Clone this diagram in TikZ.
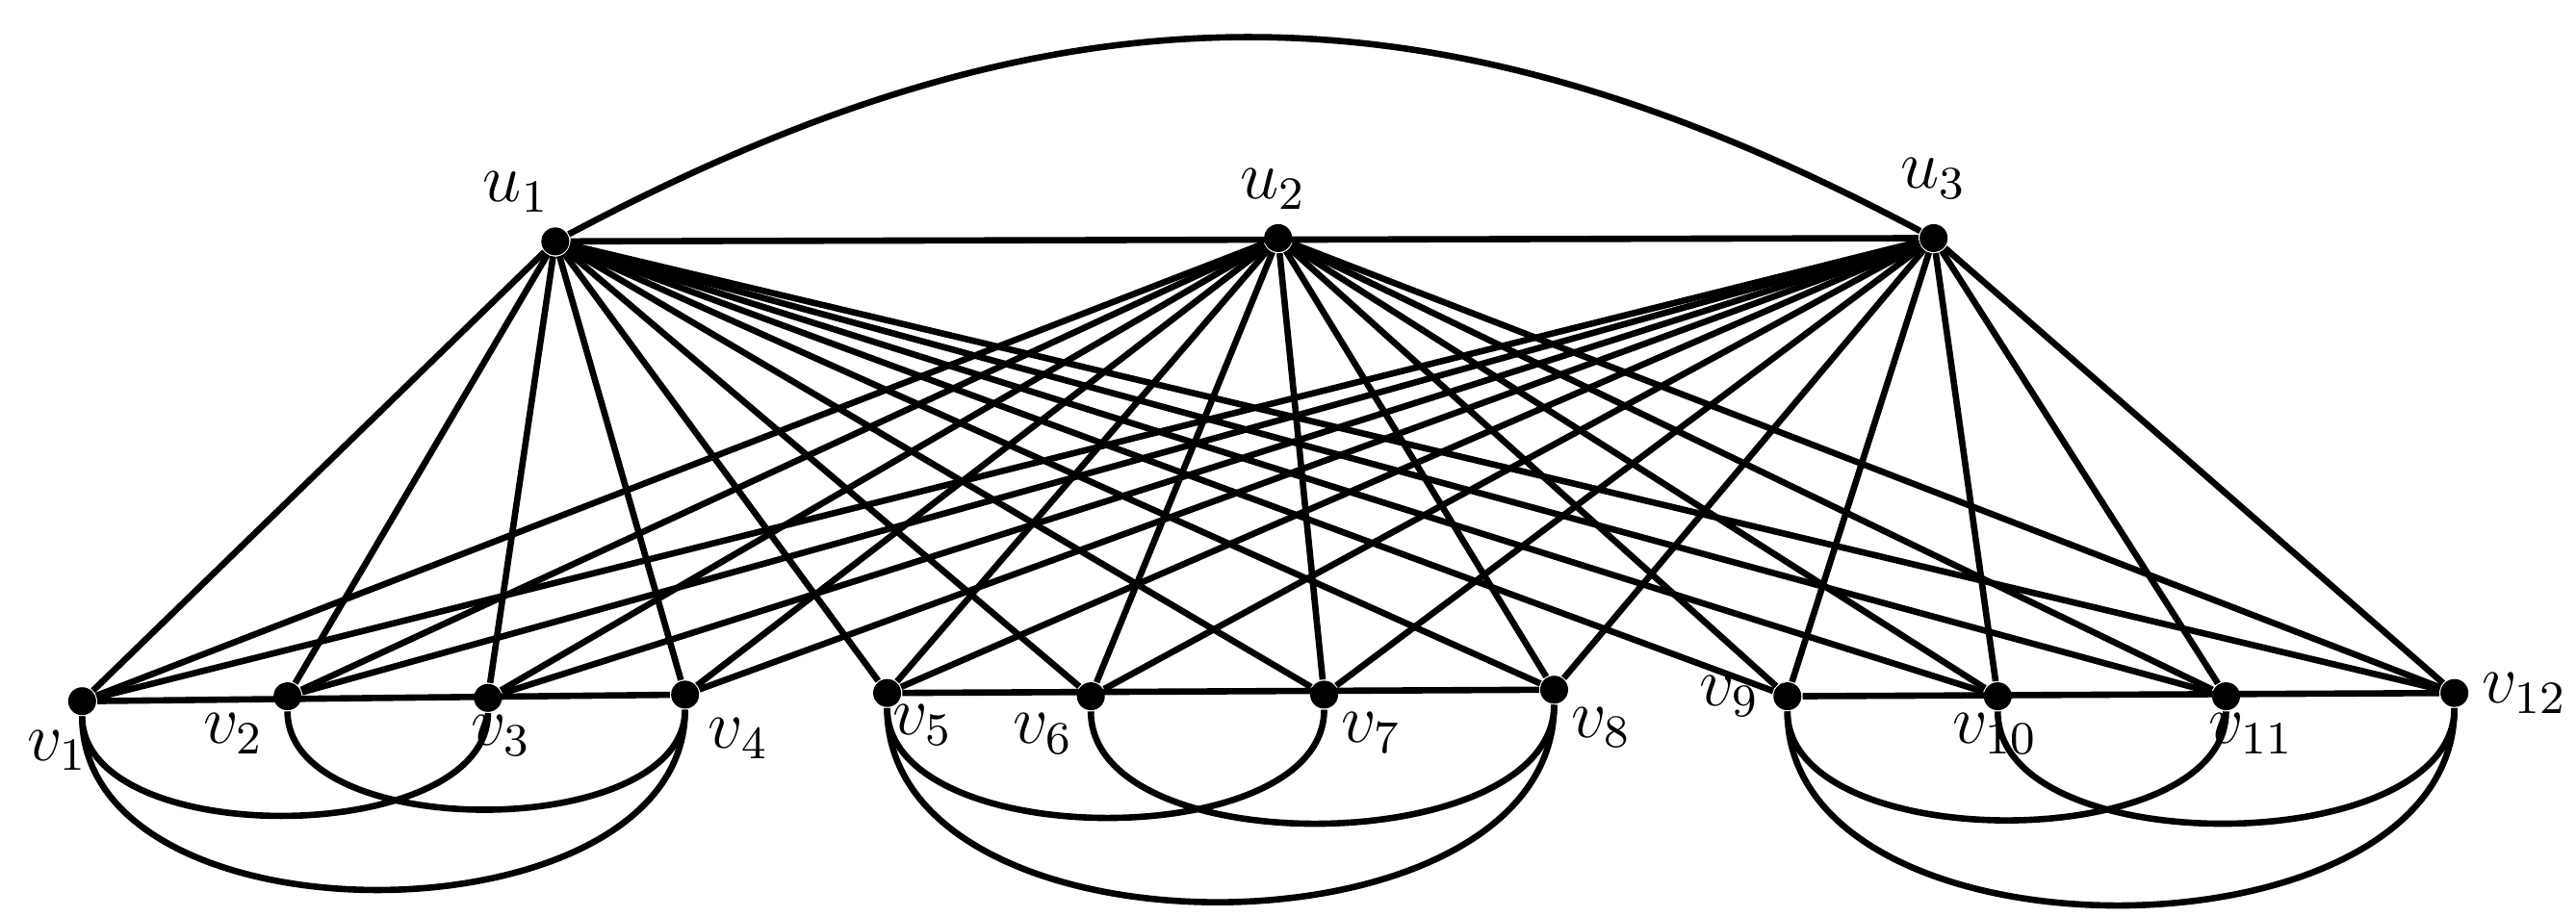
\documentclass[tikz,border=0pt]{standalone}
\usetikzlibrary{positioning}
\begin{document}
\begin{tikzpicture}[x=0.01cm,y=-0.01cm,
  dot/.style={circle,fill=black,inner sep=0pt,minimum size=0.17cm},
  lab/.style={font=\large,inner sep=1pt},
  edge/.style={line width=1.1pt}]
\useasboundingbox (0,0) rectangle (1568,558);
\foreach \n/\x/\y in {u1/338/147,u2/778/145,u3/1177/145,
 v1/50/427,v2/175/424,v3/297/425,v4/417/423,v5/540/422,v6/664/424,v7/806/423,v8/946/420,v9/1088/424,v10/1216/424,v11/1355/424,v12/1494/422}
  \node[dot] (\n) at (\x,\y) {};
\foreach \u in {u1,u2,u3}
  \foreach \v in {1,...,12}
    \draw[edge] (\u) -- (v\v);
\draw[edge] (u1) -- (u3);
\draw[edge] (u1) to[out=28,in=152,looseness=1.05] (u3);
\foreach \a/\b/\c/\d in {1/2/3/4,5/6/7/8,9/10/11/12}{
  \draw[edge] (v\a) -- (v\d);
  \draw[edge] (v\a) to[out=-90,in=-90,looseness=0.85] (v\c);
  \draw[edge] (v\b) to[out=-90,in=-90,looseness=0.85] (v\d);
  \draw[edge] (v\a) to[out=-90,in=-90,looseness=1.0] (v\d);
}
\node[lab,above left=2pt and -2pt of u1] {$u_1$};
\node[lab,above left=2pt and -8pt of u2] {$u_2$};
\node[lab,above=3pt of u3] {$u_3$};
\node[lab,below left=2pt and -4pt of v1] {$v_1$};
\node[lab,below left=0pt and 1pt of v2] {$v_2$};
\node[lab,below right=0pt and -6pt of v3] {$v_3$};
\node[lab,below right=1pt and 1pt of v4] {$v_4$};
\node[lab,below right=-1pt and -2pt of v5] {$v_5$};
\node[lab,below left=0pt and 0pt of v6] {$v_6$};
\node[lab,below right=0pt and 0pt of v7] {$v_7$};
\node[lab,below right=0pt and 0pt of v8] {$v_8$};
\node[lab,left=1pt of v9] {$v_9$};
\node[lab,below left=0pt and -10pt of v10] {$v_{10}$};
\node[lab,below right=0pt and -6pt of v11] {$v_{11}$};
\node[lab,right=1pt of v12] {$v_{12}$};
\end{tikzpicture}
\end{document}
